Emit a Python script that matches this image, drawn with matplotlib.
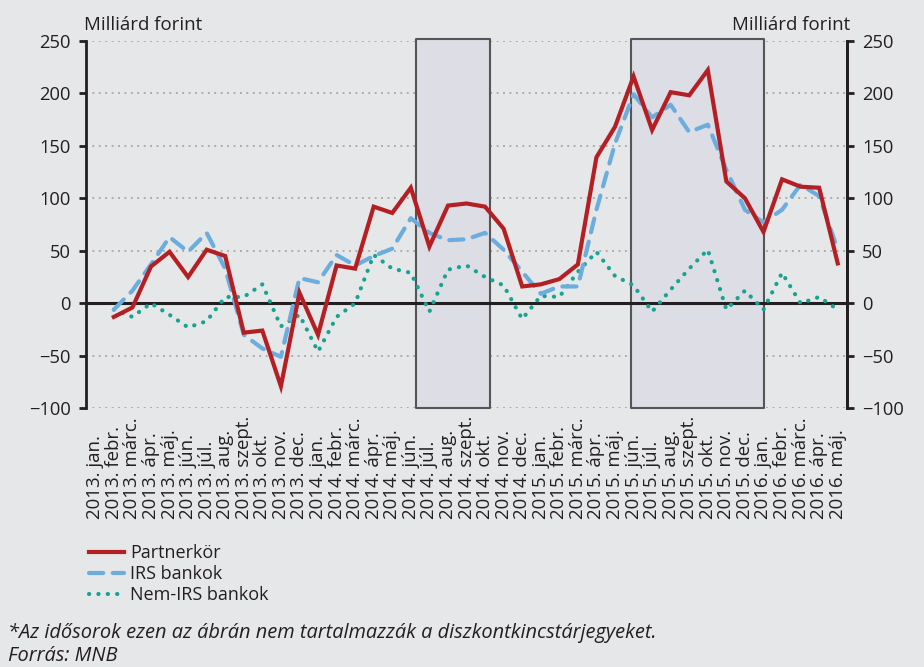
import numpy as np
import matplotlib
matplotlib.use("Agg")
import matplotlib.pyplot as plt
from matplotlib.transforms import blended_transform_factory

plt.rcParams['font.family'] = ['Open Sans', 'DejaVu Sans']

# havi adatok, 2013. jan. - 2016. máj. (jan. 2013 nincs adat)
honapok = ["jan.", "febr.", "márc.", "ápr.", "máj.", "jún.", "júl.", "aug.",
           "szept.", "okt.", "nov.", "dec."]
cimkek = ([f"2013. {h}" for h in honapok] + [f"2014. {h}" for h in honapok]
          + [f"2015. {h}" for h in honapok] + [f"2016. {h}" for h in honapok[:5]])

partnerkor = [np.nan, -13, -4, 35, 49, 25, 51, 45, -28, -26, -79, 10,
              -30, 36, 33, 92, 86, 110, 54, 93, 95, 92, 71, 16,
              18, 23, 37, 139, 168, 216, 165, 201, 198, 222, 116, 100,
              68, 118, 111, 110, 38]
irs_bankok = [np.nan, -6, 12, 37, 63, 49, 67, 33, -30, -43, -51, 24,
              20, 46, 36, 45, 52, 81, 67, 60, 61, 67, 51, 30,
              9, 16, 16, 89, 152, 199, 177, 189, 163, 170, 127, 89,
              77, 89, 113, 102, 51]
nem_irs = [np.nan, -6, -13, 0, -11, -23, -17, 6, 6, 18, -22, -11,
           -46, -13, 0, 46, 33, 29, -8, 32, 36, 25, 17, -15,
           7, 6, 30, 49, 26, 17, -8, 13, 33, 51, -6, 12,
           -6, 29, 0, 6, -6]

# kiemelt időszakok (kategória-indexben)
savok = [(17.28, 21.28), (28.88, 36.03)]

hatter = "#e6e7e8"
szoveg = "#231f20"
betu = 13.4

fig = plt.figure(figsize=(9.24, 6.67), dpi=100, facecolor=hatter)
ax = fig.add_axes([86 / 924, 1 - 408.3 / 667, 761 / 924, 367.6 / 667])
ax.set_facecolor(hatter)

x = np.arange(len(cimkek))
ax.set_xlim(-0.5, len(cimkek) - 0.5)
ax.set_ylim(-100, 250)

for a, b in savok:
    ax.fill_between([a, b], -100, 252, facecolor="#dcdde5", edgecolor="#555555",
                    linewidth=1.5, zorder=2, clip_on=False)

ax.set_yticks(range(-100, 251, 50))
ax.yaxis.grid(True, linestyle=(0, (1.2, 3)), color="#9a9a9a", linewidth=1.1, zorder=1)
ax.set_axisbelow(True)
ax.axhline(0, color=szoveg, linewidth=2.2, zorder=3)

ax.plot(x, partnerkor, color="#b41f24", linewidth=3, zorder=6,
        solid_joinstyle="miter", label="Partnerkör")
ax.plot(x, irs_bankok, color="#6caddf", linewidth=3, zorder=5,
        linestyle=(0, (3.4, 2.3)), dash_capstyle="round", label="IRS bankok")
ax.plot(x, nem_irs, color="#17a393", linewidth=3, zorder=4,
        linestyle=(0, (0.05, 2.2)), dash_capstyle="round", label="Nem-IRS bankok")

for s in ["top", "bottom"]:
    ax.spines[s].set_visible(False)
for s in ["left", "right"]:
    ax.spines[s].set_linewidth(2)
    ax.spines[s].set_color(szoveg)
ax.set_xticks([])
ax.tick_params(axis="y", direction="out", length=5, width=2, color=szoveg,
               labelsize=13.2, labelcolor=szoveg, pad=6)
ax.set_yticklabels(["−100" if v == -100 else ("−50" if v == -50 else str(v))
                    for v in range(-100, 251, 50)])

ax2 = ax.twinx()
ax2.set_ylim(ax.get_ylim())
ax2.set_yticks(range(-100, 251, 50))
ax2.set_yticklabels(ax.get_yticklabels())
for s in ["top", "bottom", "left"]:
    ax2.spines[s].set_visible(False)
ax2.spines["right"].set_linewidth(2)
ax2.spines["right"].set_color(szoveg)
ax2.tick_params(axis="y", direction="out", length=5, width=2, color=szoveg,
                labelsize=13.2, labelcolor=szoveg, pad=6)

# x tengely feliratai: alul igazítva
tr = blended_transform_factory(ax.transData, fig.transFigure)
for i, c in enumerate(cimkek):
    ax.text(i, 1 - 519 / 667, c, transform=tr, rotation=90, ha="center",
            va="bottom", fontsize=betu, color=szoveg)

fig.text(84 / 924, 1 - 30 / 667, "Milliárd forint", fontsize=betu, color=szoveg,
         ha="left", va="baseline")
fig.text(850 / 924, 1 - 30 / 667, "Milliárd forint", fontsize=betu, color=szoveg,
         ha="right", va="baseline")

h, l = ax.get_legend_handles_labels()
fig.legend(h, l, loc="upper left", bbox_to_anchor=(82 / 924, 1 - 537 / 667),
           frameon=False, fontsize=13, handlelength=1.9, handletextpad=0.35,
           labelspacing=0.17, borderaxespad=0, labelcolor=szoveg)

fig.text(8 / 924, 1 - 638 / 667,
         "*Az idősorok ezen az ábrán nem tartalmazzák a diszkontkincstárjegyeket.",
         fontsize=14.4, style="italic", color=szoveg, ha="left", va="baseline")
fig.text(8 / 924, 1 - 661 / 667, "Forrás: MNB", fontsize=14.4, style="italic",
         color=szoveg, ha="left", va="baseline")

fig.savefig("out.png", dpi=100, facecolor=hatter)
